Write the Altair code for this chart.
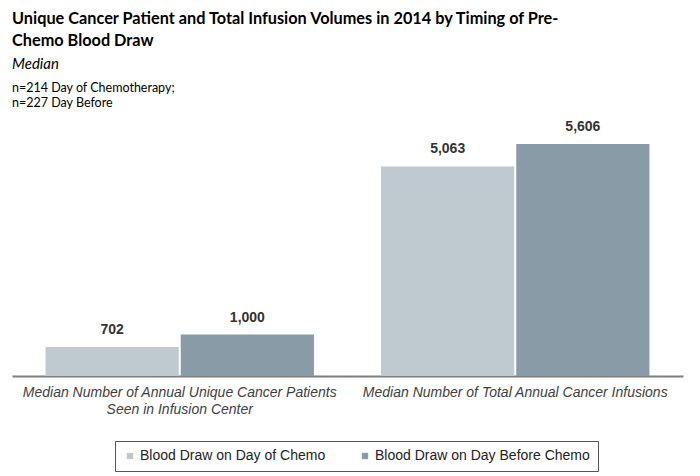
import altair as alt
import pandas as pd

categories = [
    "Median Number of Annual Unique Cancer Patients\nSeen in Infusion Center",
    "Median Number of Total Annual Cancer Infusions",
]
series = ["Blood Draw on Day of Chemo", "Blood Draw on Day Before Chemo"]
day_of_values = [702, 5063]
day_before_values = [1000, 5606]

title_lines = [
    "Unique Cancer Patient and Total Infusion Volumes in 2014 by Timing of Pre-",
    "Chemo Blood Draw",
]
subtitle_text = "Median"
note_lines = ["n=214 Day of Chemotherapy;", "n=227 Day Before"]

colors = ["#BFC9D0", "#8A9BA8"]

rows = []
for i, c in enumerate(categories):
    rows.append({"category": c, "series": series[0], "value": day_of_values[i]})
    rows.append({"category": c, "series": series[1], "value": day_before_values[i]})
df = pd.DataFrame(rows)

W, H = 671, 276

x = alt.X(
    "category:N",
    sort=categories,
    scale=alt.Scale(paddingInner=0.2, paddingOuter=0.1),
    axis=alt.Axis(
        title=None,
        labelAngle=0,
        ticks=False,
        domainColor="#7f7f7f",
        domainWidth=2,
        labelFont="Liberation Sans",
        labelFontStyle="italic",
        labelFontSize=14,
        labelColor="#404040",
        labelPadding=9,
        labelLineHeight=17,
        labelLimit=400,
        labelExpr="split(datum.label, '\\n')",
    ),
)
xo = alt.XOffset("series:N", sort=series, scale=alt.Scale(paddingInner=0.015))
y = alt.Y("value:Q", scale=alt.Scale(domain=[0, 6670], nice=False), axis=None)

bars = alt.Chart(df).mark_bar().encode(
    x=x,
    xOffset=xo,
    y=y,
    color=alt.Color(
        "series:N",
        sort=series,
        scale=alt.Scale(domain=series, range=colors),
        legend=alt.Legend(
            title=None,
            orient="none",
            legendX=103,
            legendY=341,
            direction="horizontal",
            symbolType="square",
            symbolSize=40,
            symbolStrokeWidth=0,
            labelFont="Liberation Sans",
            labelFontSize=14,
            labelColor="#222222",
            labelOffset=3,
            labelLimit=400,
            columnPadding=32,
            padding=8,
            strokeColor="#555555",
            fillColor="white",
        ),
    ),
)

labels = alt.Chart(df).mark_text(
    dy=-10, baseline="bottom", font="Liberation Sans", fontSize=14,
    fontWeight="bold", color="#333333"
).encode(
    x=alt.X("category:N", sort=categories),
    xOffset=alt.XOffset("series:N", sort=series),
    y=alt.Y("value:Q"),
    text=alt.Text("value:Q", format=",.0f"),
)

head_df = pd.DataFrame({"t": [0]})
title1 = alt.Chart(head_df).mark_text(
    text=title_lines[0], align="left", baseline="alphabetic", font="Lato",
    fontSize=16.3, fontWeight="bold", color="#000000"
).encode(x=alt.value(0), y=alt.value(-76))
title2 = alt.Chart(head_df).mark_text(
    text=title_lines[1], align="left", baseline="alphabetic", font="Lato",
    fontSize=16.3, fontWeight="bold", color="#000000"
).encode(x=alt.value(0), y=alt.value(-54))
sub = alt.Chart(head_df).mark_text(
    text=subtitle_text, align="left", baseline="alphabetic", font="Lato",
    fontSize=15, fontStyle="italic", color="#000000"
).encode(x=alt.value(0), y=alt.value(-31))
note1 = alt.Chart(head_df).mark_text(
    text=note_lines[0], align="left", baseline="alphabetic", font="Lato",
    fontSize=12.5, color="#000000"
).encode(x=alt.value(0), y=alt.value(-8))
note2 = alt.Chart(head_df).mark_text(
    text=note_lines[1], align="left", baseline="alphabetic", font="Lato",
    fontSize=12.5, color="#000000"
).encode(x=alt.value(0), y=alt.value(7))

chart = alt.layer(bars, labels, title1, title2, sub, note1, note2).properties(
    width=W,
    height=H,
    autosize=alt.AutoSizeParams(type="none"),
    padding={"left": 4, "top": 92, "right": 9, "bottom": 96},
).configure_view(stroke=None).resolve_scale(x="shared")

chart.save("out.html", embed_options={"renderer": "svg", "actions": False})
